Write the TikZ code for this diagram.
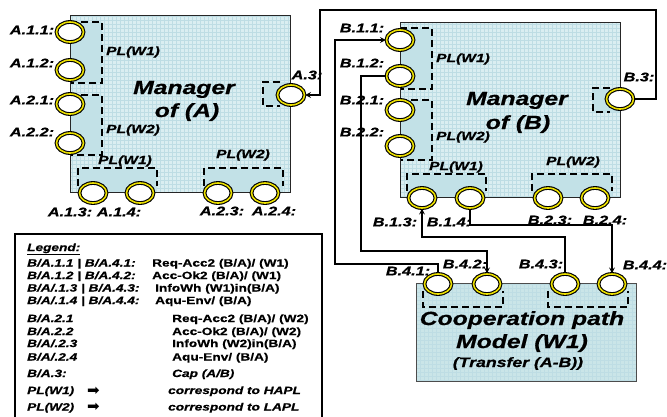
\documentclass[tikz,border=0pt]{standalone}
\usepackage{fontspec}
\usetikzlibrary{shapes.geometric}
\newfontfamily\bifont[FakeStretch=1.3, FakeBold=0.8]{Liberation Sans Bold Italic}
\newfontfamily\bfont[FakeStretch=1.3, FakeBold=0.6]{Liberation Sans Bold}
\newfontfamily\symfont{DejaVu Sans}
\definecolor{mgrfill}{RGB}{218,238,241}
\definecolor{coopfill}{RGB}{202,229,232}
\definecolor{gridcol}{RGB}{190,221,228}
\definecolor{plshade}{RGB}{194,225,231}
\definecolor{ring}{RGB}{236,224,0}
\begin{document}
\begin{tikzpicture}[
    x=1pt, y=-1pt,
    port/.style={ellipse, draw=black, line width=1.1pt, double=ring, double distance=1.6pt, fill=white, minimum width=27pt, minimum height=20pt, inner sep=0pt},
    portlabel/.style={font=\bifont\fontsize{12.5}{14}\selectfont, inner sep=0pt},
    pllabel/.style={font=\bifont\fontsize{12}{14}\selectfont, inner sep=0pt},
    bigtext/.style={font=\bifont\fontsize{19}{23}\selectfont, anchor=base, inner sep=0pt},
    legleft/.style={font=\bifont\fontsize{10.5}{12.5}\selectfont, anchor=base west, inner sep=0pt},
    legright/.style={font=\bfont\fontsize{10.5}{12.5}\selectfont, anchor=base west, inner sep=0pt},
    plbracket/.style={line width=1.6pt, dash pattern=on 7pt off 4pt},
    gridline/.style={draw=gridcol, line width=0.3pt},
    mgrbox/.style={draw=black!85, line width=0.9pt},
    arrow/.style={->, >=stealth, line width=1.6pt},
]
\useasboundingbox (0,0) rectangle (667,416);

% Manager of (A)
\fill[mgrfill] (70,15) rectangle (290,192);
\draw[gridline, step=4pt] (70,192) grid (290,15);
\fill[plshade] (70,22) rectangle (102,83);
\fill[plshade] (70,95) rectangle (102,155);
\fill[plshade] (78,168) rectangle (157,192);
\fill[plshade] (204,168) rectangle (283,192);
\fill[plshade] (263,82) rectangle (290,106);
\draw[plbracket] (70,22) -- (102,22) -- (102,83) -- (70,83);
\draw[plbracket] (70,95) -- (102,95) -- (102,155) -- (70,155);
\draw[plbracket] (78,186) -- (78,168) -- (157,168) -- (157,186);
\draw[plbracket] (204,186) -- (204,168) -- (283,168) -- (283,186);
\draw[plbracket] (280,82) -- (263,82) -- (263,106) -- (280,106);
\draw[mgrbox] (70,15) rectangle (290,192);
\node[bigtext] (mgra1) at (184,94) {Manager};
\node[bigtext] (mgra2) at (187,117) {of (A)};

% Manager of (B)
\fill[mgrfill] (400,22) rectangle (620,197);
\draw[gridline, step=4pt] (400,197) grid (620,22);
\fill[plshade] (400,28) rectangle (432,89);
\fill[plshade] (400,100) rectangle (432,160);
\fill[plshade] (407,174) rectangle (486,197);
\fill[plshade] (532,174) rectangle (612,197);
\fill[plshade] (593,88) rectangle (620,112);
\draw[plbracket] (400,28) -- (432,28) -- (432,89) -- (400,89);
\draw[plbracket] (400,100) -- (432,100) -- (432,160) -- (400,160);
\draw[plbracket] (407,191) -- (407,174) -- (486,174) -- (486,191);
\draw[plbracket] (532,191) -- (532,174) -- (612,174) -- (612,191);
\draw[plbracket] (610,88) -- (593,88) -- (593,112) -- (610,112);
\draw[mgrbox] (400,22) rectangle (620,197);
\node[bigtext] (mgrb1) at (517,105) {Manager};
\node[bigtext] (mgrb2) at (518,129) {of (B)};

% Cooperation path model
\fill[coopfill] (416,283) rectangle (636,381);
\draw[gridline, step=4pt] (416,381) grid (636,283);
\draw[plbracket] (423,291) -- (423,307) -- (503,307) -- (503,291);
\draw[plbracket] (548,291) -- (548,307) -- (628,307) -- (628,291);
\draw[mgrbox, draw=black!70] (416,283) rectangle (636,381);
\node[bigtext] (coop1) at (522,325) {Cooperation path};
\node[bigtext] (coop2) at (522,348) {Model (W1)};
\node[bigtext, font=\bifont\fontsize{13.6}{16}\selectfont] (coop3) at (518,367) {(Transfer (A-B))};

% PL labels
\node[pllabel] (plaw1) at (133,52) {PL(W1)};
\node[pllabel] (plaw2) at (133,130) {PL(W2)};
\node[pllabel] (plaw1b) at (125,161) {PL(W1)};
\node[pllabel] (plaw2b) at (243,155) {PL(W2)};
\node[pllabel] (plbw1) at (463,59) {PL(W1)};
\node[pllabel] (plbw2) at (463,137) {PL(W2)};
\node[pllabel] (plbw1b) at (456,167) {PL(W1)};
\node[pllabel] (plbw2b) at (573,162) {PL(W2)};

% Ports of A
\node[port] (a11) at (70,32) {};
\node[port] (a12) at (70,70) {};
\node[port] (a21) at (70,104) {};
\node[port] (a22) at (70,143) {};
\node[port] (a13) at (93,193) {};
\node[port] (a14) at (140,193) {};
\node[port] (a23) at (218,193) {};
\node[port] (a24) at (265,193) {};
\node[port] (a3) at (291,95) {};

% Ports of B
\node[port] (b11) at (400,40) {};
\node[port] (b12) at (400,76) {};
\node[port] (b21) at (400,110) {};
\node[port] (b22) at (400,146) {};
\node[port] (b13) at (422,198) {};
\node[port] (b14) at (470,198) {};
\node[port] (b23) at (548,198) {};
\node[port] (b24) at (595,198) {};
\node[port] (b3) at (620,99) {};

% Ports of the cooperation path
\node[port] (b41) at (438,284) {};
\node[port] (b42) at (487,284) {};
\node[port] (b43) at (565,284) {};
\node[port] (b44) at (612,284) {};

% Port labels
\node[portlabel] (la11) at (32,30) {A.1.1:};
\node[portlabel] (la12) at (32,63) {A.1.2:};
\node[portlabel] (la21) at (32,100) {A.2.1:};
\node[portlabel] (la22) at (32,132) {A.2.2:};
\node[portlabel] (la13) at (70,212) {A.1.3:};
\node[portlabel] (la14) at (119,212) {A.1.4:};
\node[portlabel] (la23) at (222,211) {A.2.3:};
\node[portlabel] (la24) at (274,211) {A.2.4:};
\node[portlabel] (la3) at (307,75) {A.3:};
\node[portlabel] (lb11) at (362,28) {B.1.1:};
\node[portlabel] (lb12) at (362,63) {B.1.2:};
\node[portlabel] (lb21) at (362,100) {B.2.1:};
\node[portlabel] (lb22) at (362,132) {B.2.2:};
\node[portlabel] (lb13) at (395,222) {B.1.3:};
\node[portlabel] (lb14) at (449,222) {B.1.4:};
\node[portlabel] (lb23) at (550,220) {B.2.3:};
\node[portlabel] (lb24) at (605,220) {B.2.4:};
\node[portlabel] (lb3) at (639,77) {B.3:};
\node[portlabel] (lb41) at (408,271) {B.4.1:};
\node[portlabel] (lb42) at (465,264) {B.4.2:};
\node[portlabel] (lb43) at (541,264) {B.4.3:};
\node[portlabel] (lb44) at (645,265) {B.4.4:};

% Connectors
\coordinate (railtop) at (320,10);
\coordinate (railleft) at (335,264);
\coordinate (railmid) at (361,251);
\coordinate (rail3) at (0,237);
\coordinate (rail4) at (0,225);
\draw[arrow] (b3.east) -- ++(22,0) |- (railtop) |- (a3.east);
\draw[arrow] (b41.north) |- (railleft) |- (b11.west);
\draw[arrow] (b12.west) -| (railmid) -| (b42.north);
\draw[arrow] (b43.north) -- (b43.north |- rail3) -| (b13.south);
\draw[arrow] (b14.south) -- (b14.south |- rail4) -| (b44.north);

% Legend
\draw[line width=1.2pt] (15,234) rectangle (322,419);
\node[legleft] (leg0) at (27,251) {\underline{Legend:}};
\node[legleft] (leg1a) at (27,266.5) {B/A.1.1 | B/A.4.1:};
\node[legright] (leg1b) at (152,266.5) {Req-Acc2 (B/A)/ (W1)};
\node[legleft] (leg2a) at (27,279) {B/A.1.2 | B/A.4.2:};
\node[legright] (leg2b) at (152,279) {Acc-Ok2 (B/A)/ (W1)};
\node[legleft] (leg3a) at (27,291.5) {B/A/.1.3 | B/A.4.3:};
\node[legright] (leg3b) at (155,291.5) {InfoWh (W1)in(B/A)};
\node[legleft] (leg4a) at (27,304) {B/A/.1.4 | B/A.4.4:};
\node[legright] (leg4b) at (155,304) {Aqu-Env/ (B/A)};
\node[legleft] (leg5a) at (27,322) {B/A.2.1};
\node[legright] (leg5b) at (172,322) {Req-Acc2 (B/A)/ (W2)};
\node[legleft] (leg6a) at (27,335) {B/A.2.2};
\node[legright] (leg6b) at (172,335) {Acc-Ok2 (B/A)/ (W2)};
\node[legleft] (leg7a) at (27,347) {B/A/.2.3};
\node[legright] (leg7b) at (172,347) {InfoWh (W2)in(B/A)};
\node[legleft] (leg8a) at (27,360.5) {B/A/.2.4};
\node[legright] (leg8b) at (172,360.5) {Aqu-Env/ (B/A)};
\node[legleft] (leg9a) at (27,377) {B/A.3:};
\node[legleft] (leg9b) at (172,377) {Cap (A/B)};
\node[legleft] (leg10a) at (27,394) {PL(W1)};
\node[legleft, font=\symfont\fontsize{15}{16}\selectfont] (leg10s) at (87,395) {➡};
\node[legleft] (leg10b) at (168,394) {correspond to HAPL};
\node[legleft] (leg11a) at (27,410.5) {PL(W2)};
\node[legleft, font=\symfont\fontsize{15}{16}\selectfont] (leg11s) at (87,411.5) {➡};
\node[legleft] (leg11b) at (168,410.5) {correspond to LAPL};

\end{tikzpicture}
\end{document}
